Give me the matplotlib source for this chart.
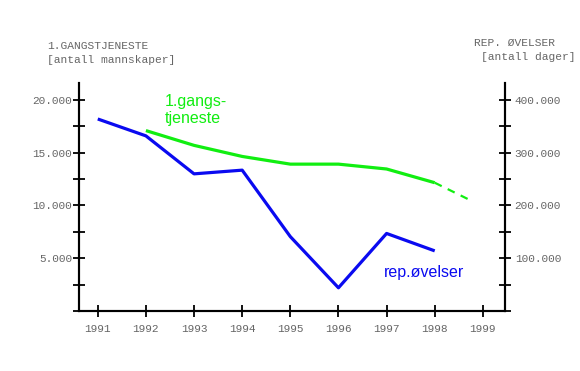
import matplotlib.pyplot as plt
import numpy as np
from matplotlib.ticker import FuncFormatter, MultipleLocator

# Data
years = [1991, 1992, 1993, 1994, 1995, 1996, 1997, 1998]
rep_ovelser = [364000, 332000, 260000, 267000, 141000, 44000, 147000, 114000]  # days
gangs_years = [1992, 1993, 1994, 1995, 1996, 1997, 1998]
gangstjeneste = [17100, 15700, 14650, 13920, 13920, 13460, 12160]  # conscripts
proj_years = [1998, 1998.77]
proj_values = [12160, 10430]

xticks = [1991, 1992, 1993, 1994, 1995, 1996, 1997, 1998, 1999]

mono = "Liberation Mono"
sans = "Liberation Sans"
grey = "#666666"
green = "#11ee11"
blue = "#0a0af0"

fig = plt.figure(figsize=(5.8, 3.71), dpi=100)
ax = fig.add_axes([79 / 580, 1 - 311 / 371, 426 / 580, 228 / 371])
ax2 = ax.twinx()

ymax = 21611
ax.set_xlim(1990.61, 1999.46)
ax.set_ylim(0, ymax)
ax2.set_ylim(0, ymax * 20)

ax.plot(gangs_years, gangstjeneste, color=green, lw=2.3, solid_capstyle="butt")
ax.plot(proj_years, proj_values, color=green, lw=1.6, dashes=(3.5, 3))
ax2.plot(years, rep_ovelser, color=blue, lw=2.3, solid_capstyle="butt")

fmt = FuncFormatter(lambda v, p: f"{int(v):,}".replace(",", ".") if v % 5000 == 0 and v > 0 else "")
fmt2 = FuncFormatter(lambda v, p: f"{int(v):,}".replace(",", ".") if v % 100000 == 0 and v > 0 else "")

ax.yaxis.set_major_locator(MultipleLocator(2500))
ax.yaxis.set_major_formatter(fmt)
ax2.yaxis.set_major_locator(MultipleLocator(50000))
ax2.yaxis.set_major_formatter(fmt2)
ax.set_xticks(xticks)
ax.set_xticklabels([str(y) for y in xticks])

for a in (ax, ax2):
    a.spines["top"].set_visible(False)
    for s in a.spines.values():
        s.set_linewidth(1.5)
    a.tick_params(direction="inout", length=8, width=1.3, labelsize=8,
                  labelcolor=grey, pad=1)
    for lab in a.get_xticklabels() + a.get_yticklabels():
        lab.set_fontfamily(mono)
ax.tick_params(axis="x", pad=5)
ax2.tick_params(axis="y", pad=3)

fs = 8.1
fig.text(47 / 580, 1 - 46 / 371, "1.GANGSTJENESTE", family=mono, fontsize=fs,
         color=grey, va="center")
fig.text(47 / 580, 1 - 60 / 371, "[antall mannskaper]", family=mono, fontsize=fs,
         color=grey, va="center")
fig.text(474 / 580, 1 - 43 / 371, "REP. ØVELSER", family=mono, fontsize=fs,
         color=grey, va="center")
fig.text(481 / 580, 1 - 57 / 371, "[antall dager]", family=mono, fontsize=fs,
         color=grey, va="center")

ax.text(1992.4, 19050, "1.gangs-\ntjeneste", family=sans, fontsize=11.5,
        color=green, ha="left", va="center", linespacing=1.1)
ax.text(1996.95, 3650, "rep.øvelser", family=sans, fontsize=11.5,
        color=blue, ha="left", va="center")

fig.savefig("out.png", dpi=100)
